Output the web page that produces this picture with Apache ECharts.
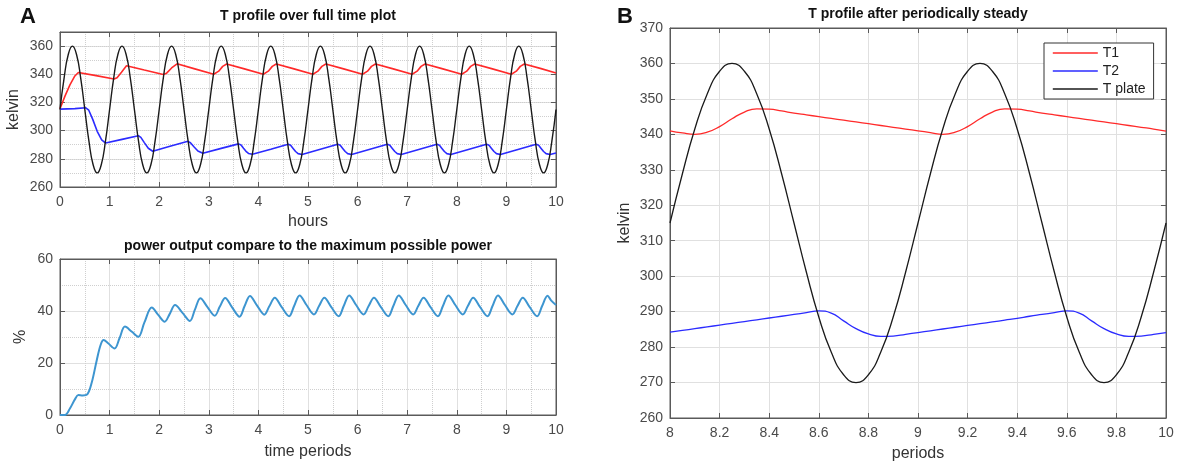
<!DOCTYPE html>
<html>
<head>
<meta charset="utf-8">
<script src="https://cdn.jsdelivr.net/npm/echarts@6/dist/echarts.min.js"></script>
<style>
html, body { margin: 0; padding: 0; background: #fff; }
#chart { width: 1177px; height: 467px; }
</style>
</head>
<body>
<div id="chart"></div>
<script>
// ---- A, top: T profile over the full run (hours) ----
// plate temperature, one reading every 1/12 hour
var plateHours = [
    315, 337.5, 354, 360, 354, 337.5, 315, 292.5, 276, 270, 276, 292.5,
    315, 337.5, 354, 360, 354, 337.5, 315, 292.5, 276, 270, 276, 292.5,
    315, 337.5, 354, 360, 354, 337.5, 315, 292.5, 276, 270, 276, 292.5,
    315, 337.5, 354, 360, 354, 337.5, 315, 292.5, 276, 270, 276, 292.5,
    315, 337.5, 354, 360, 354, 337.5, 315, 292.5, 276, 270, 276, 292.5,
    315, 337.5, 354, 360, 354, 337.5, 315, 292.5, 276, 270, 276, 292.5,
    315, 337.5, 354, 360, 354, 337.5, 315, 292.5, 276, 270, 276, 292.5,
    315, 337.5, 354, 360, 354, 337.5, 315, 292.5, 276, 270, 276, 292.5,
    315, 337.5, 354, 360, 354, 337.5, 315, 292.5, 276, 270, 276, 292.5,
    315, 337.5, 354, 360, 354, 337.5, 315, 292.5, 276, 270, 276, 292.5,
    315
];
var t1Hours = [
    [0, 315.5], [0.1, 324.5], [0.2, 332.5], [0.3, 338.8], [0.37, 341.3], [0.7, 339.2],
    [1.09, 336.6], [1.15, 337.6], [1.24, 341.5], [1.34, 346.1], [1.7, 343.0],
    [2.08, 339.8], [2.15, 340.8], [2.25, 344.5], [2.36, 347.4], [2.7, 344.0],
    [3.1, 340.0], [3.2, 342.2], [3.28, 345.6], [3.36, 347.3], [3.7, 344.0],
    [4.1, 340.0], [4.2, 342.2], [4.28, 345.6], [4.36, 347.3], [4.7, 344.0],
    [5.1, 340.0], [5.2, 342.2], [5.28, 345.6], [5.36, 347.3], [5.7, 344.0],
    [6.1, 340.0], [6.2, 342.2], [6.28, 345.6], [6.36, 347.3], [6.7, 344.0],
    [7.1, 340.0], [7.2, 342.2], [7.28, 345.6], [7.36, 347.3], [7.7, 344.0],
    [8.1, 340.0], [8.2, 342.2], [8.28, 345.6], [8.36, 347.3], [8.7, 344.0],
    [9.1, 340.0], [9.2, 342.2], [9.28, 345.6], [9.36, 347.3], [9.7, 344.0],
    [10, 340.9]
];
var t2Hours = [
    [0, 315.3], [0.3, 315.6], [0.52, 316.2], [0.58, 314.5], [0.66, 308.0], [0.75, 299.5], [0.84, 293.5], [0.92, 291.2],
    [1.25, 293.8], [1.58, 296.4], [1.63, 295.2], [1.7, 291.5], [1.78, 287.5], [1.87, 285.4],
    [2.2, 288.8], [2.58, 292.4], [2.63, 291.4], [2.7, 288.6], [2.78, 285.6], [2.88, 283.9],
    [3.25, 287.4], [3.6, 290.6], [3.65, 289.8], [3.7, 287.5], [3.75, 285.3], [3.8, 283.8], [3.88, 283.2],
    [4.25, 286.8], [4.6, 290.3], [4.65, 289.6], [4.7, 287.4], [4.75, 285.2], [4.8, 283.7], [4.88, 283.0],
    [5.25, 286.8], [5.6, 290.3], [5.65, 289.6], [5.7, 287.4], [5.75, 285.2], [5.8, 283.7], [5.88, 283.0],
    [6.25, 286.8], [6.6, 290.3], [6.65, 289.6], [6.7, 287.4], [6.75, 285.2], [6.8, 283.7], [6.88, 283.0],
    [7.25, 286.8], [7.6, 290.3], [7.65, 289.6], [7.7, 287.4], [7.75, 285.2], [7.8, 283.7], [7.88, 283.0],
    [8.25, 286.8], [8.6, 290.3], [8.65, 289.6], [8.7, 287.4], [8.75, 285.2], [8.8, 283.7], [8.88, 283.0],
    [9.25, 286.8], [9.6, 290.3], [9.65, 289.6], [9.7, 287.4], [9.75, 285.2], [9.8, 283.7], [9.88, 283.0],
    [10, 284.1]
];

// ---- A, bottom: power output in % of maximum ----
var powerPct = [
    [0, 0], [0.1, 0], [0.2, 2.5], [0.3, 6], [0.37, 7.7], [0.46, 7.5], [0.55, 7.9], [0.64, 12.5], [0.74, 21], [0.82, 27], [0.88, 28.8], [0.97, 27.6],
    [1.1, 25.6], [1.2, 29.5], [1.31, 34], [1.45, 32], [1.58, 30.1], [1.7, 35.5], [1.85, 41.3], [1.98, 38.5],
    [2.11, 35.9], [2.21, 38.8], [2.32, 42.3], [2.47, 39.3], [2.62, 36.2], [2.72, 40.5], [2.83, 44.9], [2.97, 41.6],
    [3.12, 38.2], [3.22, 41.6], [3.33, 45.0], [3.47, 41.4], [3.62, 37.8], [3.72, 41.8], [3.83, 45.8], [3.97, 42.2],
    [4.12, 38.6], [4.22, 41.8], [4.33, 45.1], [4.47, 41.5], [4.62, 38.0], [4.72, 41.9], [4.83, 46.0], [4.97, 42.3],
    [5.12, 38.7], [5.22, 41.8], [5.33, 45.1], [5.47, 41.5], [5.62, 38.0], [5.72, 41.9], [5.83, 46.0], [5.97, 42.3],
    [6.12, 38.7], [6.22, 41.8], [6.33, 45.1], [6.47, 41.5], [6.62, 38.0], [6.72, 41.9], [6.83, 46.0], [6.97, 42.3],
    [7.12, 38.7], [7.22, 41.8], [7.33, 45.1], [7.47, 41.5], [7.62, 38.0], [7.72, 41.9], [7.83, 46.0], [7.97, 42.3],
    [8.12, 38.7], [8.22, 41.8], [8.33, 45.1], [8.47, 41.5], [8.62, 38.0], [8.72, 41.9], [8.83, 46.0], [8.97, 42.3],
    [9.12, 38.7], [9.22, 41.8], [9.33, 45.1], [9.47, 41.5], [9.62, 38.0], [9.72, 41.9], [9.83, 45.9], [9.9, 44.1],
    [10, 42.3]
];

// ---- B: periodically steady part, one reading every 0.05 period from 8 to 10 ----
var t1Steady = [
    341.0, 340.4, 340.0, 340.6, 342.2, 344.4, 346.3, 347.2, 347.1, 346.6,
    346.0, 345.5, 345.0, 344.5, 344.0, 343.5, 343.0, 342.5, 342.0, 341.5,
    341.0, 340.5, 340.0, 340.6, 342.2, 344.4, 346.3, 347.2, 347.1, 346.6,
    346.0, 345.5, 345.0, 344.5, 344.0, 343.5, 343.0, 342.5, 342.0, 341.5,
    340.9
];
var t2Steady = [
    284.2, 284.7, 285.2, 285.7, 286.2, 286.7, 287.2, 287.7, 288.2, 288.7,
    289.2, 289.7, 290.2, 289.6, 287.4, 285.2, 283.7, 283.0, 283.1, 283.6,
    284.1, 284.6, 285.1, 285.6, 286.1, 286.6, 287.1, 287.6, 288.1, 288.7,
    289.2, 289.7, 290.2, 289.6, 287.4, 285.2, 283.7, 283.0, 283.1, 283.6,
    284.1
];
var plateSteady = [
    315, 328.9, 341.5, 351.4, 357.8, 360, 357.8, 351.4, 341.5, 328.9,
    315, 301.1, 288.5, 278.6, 272.2, 270, 272.2, 278.6, 288.5, 301.1,
    315, 328.9, 341.5, 351.4, 357.8, 360, 357.8, 351.4, 341.5, 328.9,
    315, 301.1, 288.5, 278.6, 272.2, 270, 272.2, 278.6, 288.5, 301.1,
    315
];

var FONT = '"Liberation Sans", Arial, Helvetica, sans-serif';
var axisColor = '#5a5a5a';
var labelColor = '#4a4a4a';

function fmt(v) {
    return String(+v.toFixed(1));
}

function bottomAxis(gridIndex, min, max, step, name, gap, minor) {
    return {
        type: 'value', gridIndex: gridIndex, position: 'bottom',
        min: min, max: max, interval: step,
        name: name, nameLocation: 'middle', nameGap: gap,
        nameTextStyle: { fontSize: 16, color: '#333', fontFamily: FONT },
        axisLine: { onZero: false, lineStyle: { color: axisColor } },
        axisTick: { inside: true, length: 5, lineStyle: { color: axisColor } },
        axisLabel: { margin: 8, fontSize: 14, color: labelColor, fontFamily: FONT, formatter: fmt },
        splitLine: { show: true, lineStyle: { color: '#e0e0e0' } },
        minorTick: { show: false, splitNumber: 2 },
        minorSplitLine: { show: !!minor, lineStyle: { color: '#cfcfcf', type: 'dotted' } }
    };
}

function leftAxis(gridIndex, min, max, step, name, gap, minor, formatter) {
    return {
        type: 'value', gridIndex: gridIndex, position: 'left',
        min: min, max: max, interval: step,
        name: name, nameLocation: 'middle', nameGap: gap, nameRotate: 90,
        nameTextStyle: { fontSize: 16, color: '#333', fontFamily: FONT },
        axisLine: { onZero: false, lineStyle: { color: axisColor } },
        axisTick: { inside: true, length: 5, lineStyle: { color: axisColor } },
        axisLabel: { margin: 7, fontSize: 14, color: labelColor, fontFamily: FONT, formatter: formatter || fmt },
        splitLine: { show: true, lineStyle: { color: '#e0e0e0' } },
        minorTick: { show: false, splitNumber: 2 },
        minorSplitLine: { show: !!minor, lineStyle: { color: '#cfcfcf', type: 'dotted' } }
    };
}

// ticks only, for the top and right edges of each box
function edgeAxis(gridIndex, position, min, max, step) {
    return {
        type: 'value', gridIndex: gridIndex, position: position,
        min: min, max: max, interval: step,
        axisLine: { onZero: false, lineStyle: { color: axisColor } },
        axisTick: { inside: true, length: 5, lineStyle: { color: axisColor } },
        axisLabel: { show: false },
        splitLine: { show: false }
    };
}

function line(name, data, color, xi, yi, width, smooth) {
    return {
        name: name, type: 'line', xAxisIndex: xi, yAxisIndex: yi,
        data: data, symbol: 'none', smooth: smooth, silent: true,
        lineStyle: { color: color, width: width },
        itemStyle: { color: color }
    };
}

function withX(values, start, step) {
    return values.map(function(v, i) { return [start + i * step, v]; });
}

var red = '#ff2a2a', blue = '#2b2bff', black = '#1a1a1a';

var option = {
    animation: false,
    backgroundColor: '#fff',
    textStyle: { fontFamily: FONT },
    grid: [
        { left: 60, top: 32, width: 496, height: 155, show: true, borderColor: axisColor, borderWidth: 1 },
        { left: 60, top: 259, width: 496, height: 156, show: true, borderColor: axisColor, borderWidth: 1 },
        { left: 670, top: 28, width: 496, height: 393, show: true, borderColor: axisColor, borderWidth: 1 }
    ],
    xAxis: [
        bottomAxis(0, 0, 10, 1, 'hours', 27, true),
        edgeAxis(0, 'top', 0, 10, 1),
        bottomAxis(1, 0, 10, 1, 'time periods', 29, true),
        edgeAxis(1, 'top', 0, 10, 1),
        bottomAxis(2, 8, 10, 0.2, 'periods', 28, false),
        edgeAxis(2, 'top', 8, 10, 0.2)
    ],
    yAxis: [
        leftAxis(0, 260, 370, 20, 'kelvin', 38, false, function(v) { return v === 370 ? '' : fmt(v); }),
        edgeAxis(0, 'right', 260, 370, 20),
        leftAxis(1, 0, 60, 20, '%', 31, true),
        edgeAxis(1, 'right', 0, 60, 20),
        leftAxis(2, 260, 370, 10, 'kelvin', 37, false),
        edgeAxis(2, 'right', 260, 370, 10),
        // dotted minor grid of the top-left box (every 10 K)
        {
            type: 'value', gridIndex: 0, position: 'left', min: 260, max: 370, interval: 10,
            axisLine: { show: false }, axisTick: { show: false }, axisLabel: { show: false },
            splitLine: { show: true, lineStyle: { color: '#cfcfcf', type: 'dotted' } }
        }
    ],
    legend: {
        orient: 'vertical', left: 1044, top: 43,
        data: ['T1', 'T2', 'T plate'],
        itemWidth: 45, itemHeight: 14, itemGap: 4,
        padding: [3, 8, 3, 8],
        borderColor: '#333', borderWidth: 1, backgroundColor: '#fff',
        selectedMode: false,
        // plain line keys, no marker
        itemStyle: { opacity: 0, borderWidth: 0 },
        lineStyle: { width: 1.6, opacity: 1 },
        textStyle: { fontSize: 14, color: '#222', fontFamily: FONT }
    },
    graphic: [
        { type: 'text', left: 20, top: 6, style: { text: 'A', font: 'bold 22px ' + FONT, fill: '#111' } },
        { type: 'text', left: 617, top: 6, style: { text: 'B', font: 'bold 22px ' + FONT, fill: '#111' } },
        { type: 'text', x: 308, y: 16, style: { text: 'T profile over full time plot', font: 'bold 14px ' + FONT, fill: '#111', align: 'center', verticalAlign: 'middle' } },
        { type: 'text', x: 308, y: 246, style: { text: 'power output compare to the maximum possible power', font: 'bold 14px ' + FONT, fill: '#111', align: 'center', verticalAlign: 'middle' } },
        { type: 'text', x: 918, y: 14, style: { text: 'T profile after periodically steady', font: 'bold 14px ' + FONT, fill: '#111', align: 'center', verticalAlign: 'middle' } }
    ],
    series: [
        line('T1', t1Hours, red, 0, 0, 1.6, false),
        line('T2', t2Hours, blue, 0, 0, 1.6, false),
        line('T plate', withX(plateHours, 0, 1 / 12), black, 0, 0, 1.4, true),
        line('power', powerPct, '#3d95d0', 2, 2, 2, 0.35),
        line('T1', withX(t1Steady, 8, 0.05), red, 4, 4, 1.3, true),
        line('T2', withX(t2Steady, 8, 0.05), blue, 4, 4, 1.3, true),
        line('T plate', withX(plateSteady, 8, 0.05), black, 4, 4, 1.3, true)
    ]
};

echarts.init(document.getElementById('chart')).setOption(option);
</script>
</body>
</html>
